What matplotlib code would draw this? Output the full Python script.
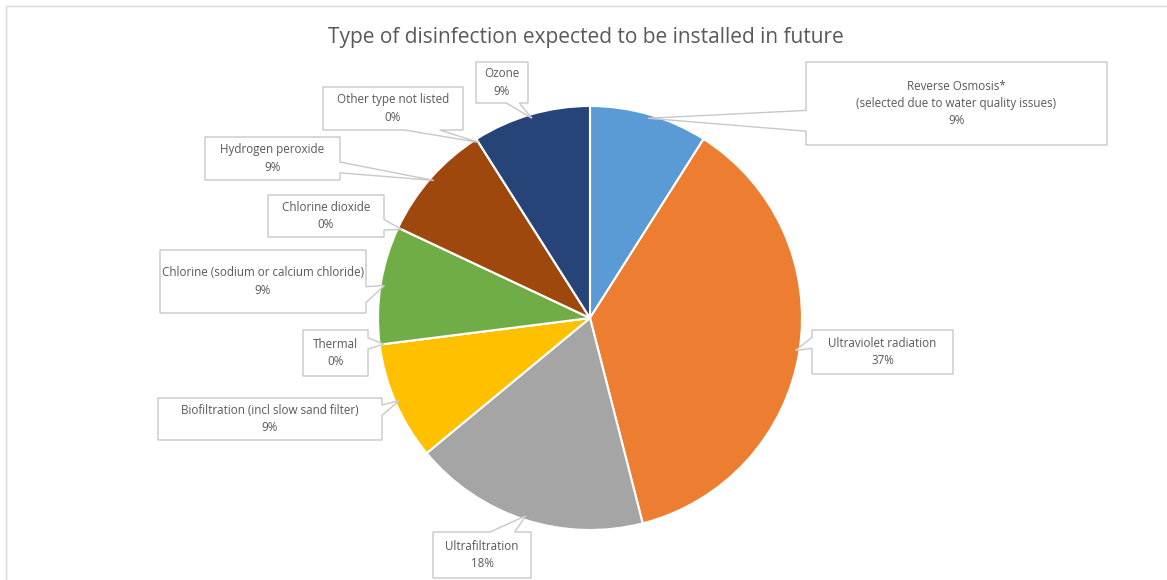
import matplotlib
matplotlib.use("Agg")
import matplotlib.pyplot as plt
from matplotlib.patches import Polygon, Rectangle
import numpy as np

# Data
categories = [
    "Reverse Osmosis*\n(selected due to water quality issues)",
    "Ultraviolet radiation",
    "Ultrafiltration",
    "Biofiltration (incl slow sand filter)",
    "Thermal",
    "Chlorine (sodium or calcium chloride)",
    "Chlorine dioxide",
    "Hydrogen peroxide",
    "Other type not listed",
    "Ozone",
]
shares = [9, 37, 18, 9, 0, 9, 0, 9, 0, 9]
colors = ["#5B9BD5", "#ED7D31", "#A5A5A5", "#FFC000", "#4472C4",
          "#70AD47", "#255E91", "#9E480E", "#636363", "#264478"]
title = "Type of disinfection expected to be installed in future"

# Layout (pixel coordinates, y measured from the top)
W, H = 1167, 580
center_px = (590, 318)
radius_px = 212
label_boxes = [
    (806, 62, 1107, 145),
    (812, 330, 953, 374),
    (433, 532, 531, 578),
    (158, 398, 382, 440),
    (303, 330, 368, 376),
    (160, 250, 366, 313),
    (268, 195, 384, 237),
    (205, 137, 340, 180),
    (323, 87, 463, 130),
    (476, 62, 528, 103),
]

plt.rcParams["font.family"] = ["Open Sans", "DejaVu Sans"]
text_color = "#595959"
edge_color = "#C8C8C8"

fig = plt.figure(figsize=(W / 100, H / 100), dpi=100)
ax = fig.add_axes([0, 0, 1, 1])

cx, cy = center_px[0], H - center_px[1]
ax.pie(shares, colors=colors, startangle=90, counterclock=False,
       center=(cx, cy), radius=radius_px,
       wedgeprops=dict(edgecolor="white", linewidth=1.5), frame=True)
ax.set_xlim(0, W)
ax.set_ylim(0, H)
ax.set_aspect("equal")
ax.axis("off")


def callout_outline(x0, y0, x1, y1, tx, ty):
    """Rectangle outline (y up) with a wedge pointing at (tx, ty)."""
    w, h = x1 - x0, y1 - y0
    mx, my = (x0 + x1) / 2, (y0 + y1) / 2
    dx, dy = (tx - mx) / w, (ty - my) / h
    # corners counter-clockwise starting at bottom-left
    bl, br, tr, tl = (x0, y0), (x1, y0), (x1, y1), (x0, y1)
    if abs(dx) > abs(dy):
        # wedge on left or right side; base nearer the tip's half
        if dy < 0:
            ya, yb = y0 + h * 2 / 12, y0 + h * 5 / 12
        else:
            ya, yb = y0 + h * 7 / 12, y0 + h * 10 / 12
        if dx > 0:
            pts = [bl, br, (x1, ya), (tx, ty), (x1, yb), tr, tl]
        else:
            pts = [bl, br, tr, tl, (x0, yb), (tx, ty), (x0, ya)]
    else:
        if dx < 0:
            xa, xb = x0 + w * 2 / 12, x0 + w * 5 / 12
        else:
            xa, xb = x0 + w * 7 / 12, x0 + w * 10 / 12
        if dy < 0:
            pts = [bl, (xa, y0), (tx, ty), (xb, y0), br, tr, tl]
        else:
            pts = [bl, br, tr, (xb, y1), (tx, ty), (xa, y1), tl]
    return pts


total = float(sum(shares))
angle = 90.0
for name, val, box in zip(categories, shares, label_boxes):
    span = 360.0 * val / total
    mid = np.deg2rad(angle - span / 2)
    angle -= span
    tx = cx + (radius_px - 4) * np.cos(mid)
    ty = cy + (radius_px - 4) * np.sin(mid)
    x0, y0t, x1, y1t = box
    y0, y1 = H - y1t, H - y0t
    ax.add_patch(Polygon(callout_outline(x0, y0, x1, y1, tx, ty), closed=True,
                         facecolor="white", edgecolor=edge_color,
                         linewidth=1.0, zorder=3))
    ax.text((x0 + x1) / 2, (y0 + y1) / 2, f"{name}\n{val}%",
            ha="center", va="center", fontsize=8.4, color=text_color,
            linespacing=1.45, zorder=4)

ax.text(586, H - 38, title, ha="center", va="center", fontsize=15,
        color=text_color)

# Chart area border
fig.patches.append(Rectangle((6 / W, -0.01), 1.02, 1 - 6 / H + 0.01,
                             transform=fig.transFigure, fill=False,
                             edgecolor="#D9D9D9", linewidth=1.0))

fig.savefig("out.png", dpi=100, facecolor="white")
